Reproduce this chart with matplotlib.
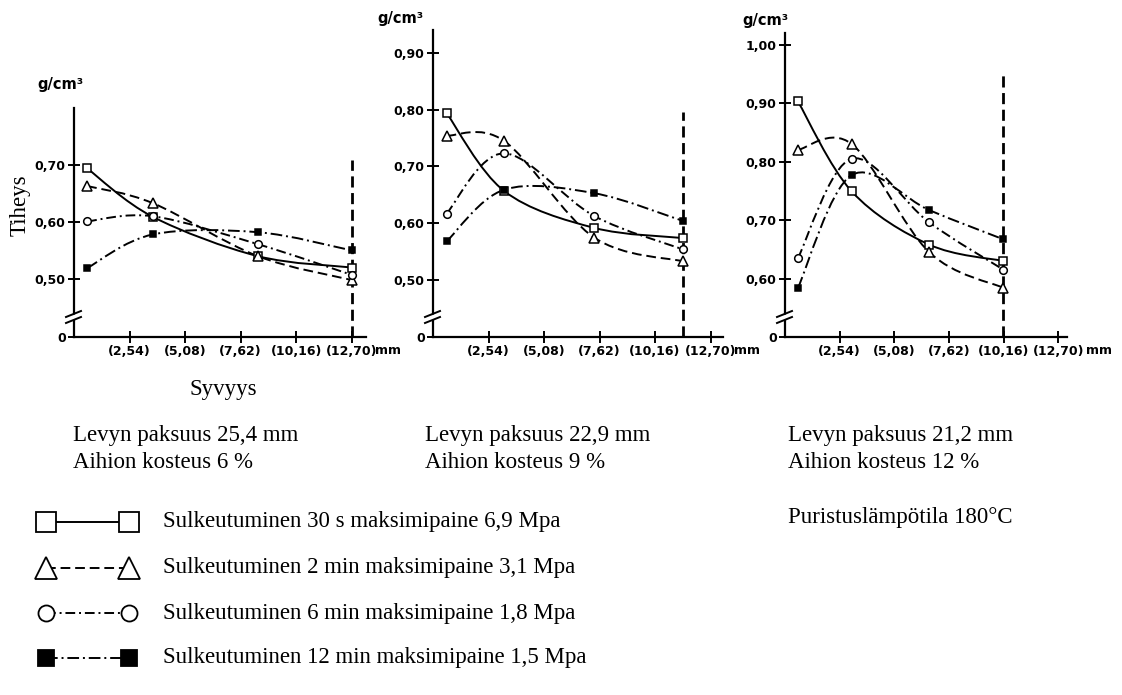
import numpy as np
import matplotlib
matplotlib.use("Agg")
import matplotlib.pyplot as plt
from matplotlib.path import Path
from matplotlib.patches import PathPatch, Polygon
from matplotlib.lines import Line2D
from matplotlib import font_manager

W, H = 1122, 695

depth1 = [0.6, 3.6, 8.4, 12.7]
p1_sq = [0.694, 0.609, 0.540, 0.520]
p1_tri = [0.663, 0.633, 0.540, 0.498]
p1_circ = [0.601, 0.610, 0.561, 0.507]
p1_fill = [0.519, 0.578, 0.582, 0.550]

depth2 = [0.62, 3.25, 7.37, 11.45]
p2_sq = [0.794, 0.657, 0.592, 0.574]
p2_tri = [0.754, 0.745, 0.575, 0.533]
p2_circ = [0.617, 0.723, 0.613, 0.554]
p2_fill = [0.568, 0.659, 0.653, 0.604]

depth3 = [0.6, 3.1, 6.7, 10.15]
p3_sq = [0.903, 0.749, 0.658, 0.630]
p3_tri = [0.820, 0.830, 0.645, 0.584]
p3_circ = [0.635, 0.805, 0.696, 0.615]
p3_fill = [0.584, 0.777, 0.717, 0.667]

# centre plane of the board and top of its dashed marker
center_x = [12.7, 11.45, 10.15]
center_top = [0.708, 0.796, 0.951]

xtick_vals = [2.54, 5.08, 7.62, 10.16, 12.70]
xtick_labels = ["(2,54)", "(5,08)", "(7,62)", "(10,16)", "(12,70)"]
ytick_vals = [[0.5, 0.6, 0.7], [0.5, 0.6, 0.7, 0.8, 0.9], [0.6, 0.7, 0.8, 0.9, 1.0]]

captions = [("Levyn paksuus 25,4 mm", "Aihion kosteus 6 %"),
            ("Levyn paksuus 22,9 mm", "Aihion kosteus 9 %"),
            ("Levyn paksuus 21,2 mm", "Aihion kosteus 12 %")]
legend_labels = ["Sulkeutuminen 30 s maksimipaine 6,9 Mpa",
                 "Sulkeutuminen 2 min maksimipaine 3,1 Mpa",
                 "Sulkeutuminen 6 min maksimipaine 1,8 Mpa",
                 "Sulkeutuminen 12 min maksimipaine 1,5 Mpa"]

# series styles: marker, face, linestyle, size
styles = [("s", "white", "-", 5.5),
          ("^", "white", (0, (5, 2.5)), 6.5),
          ("o", "white", (0, (5, 2, 1, 2)), 5.5),
          ("s", "black", (0, (6, 2, 1, 2)), 4.5)]

names = {f.name for f in font_manager.fontManager.ttflist}
if "Liberation Sans Narrow" in names:
    tickfont = dict(family="Liberation Sans Narrow", size=11.5, weight="bold")
else:
    tickfont = dict(family="DejaVu Sans", size=9, weight="bold")
unitfont = dict(tickfont, size=tickfont["size"] + 1.5)
serif = dict(family="Liberation Serif", size=16.5)

fig = plt.figure(figsize=(W / 100, H / 100), dpi=100)

ov = fig.add_axes([0, 0, 1, 1])
ov.set_xlim(0, W)
ov.set_ylim(H, 0)
ov.axis("off")


def smooth(ax, xs, ys, ls):
    """hand-drawn look: bezier curve through the points"""
    pts = np.column_stack([xs, ys])
    ext = np.vstack([pts[0], pts, pts[-1]])
    verts = [pts[0]]
    codes = [Path.MOVETO]
    for i in range(len(pts) - 1):
        p0, p1, p2, p3 = ext[i], ext[i + 1], ext[i + 2], ext[i + 3]
        verts += [p1 + (p2 - p0) / 6, p2 - (p3 - p1) / 6, p2]
        codes += [Path.CURVE4] * 3
    ax.add_patch(PathPatch(Path(verts, codes), fill=False, lw=1.4,
                           ls=ls, ec="black", zorder=2, capstyle="butt"))


def panel(left, right, top, xmax, ylim, depth, series, yt, cx, ctop, mm_dx):
    bottom = 337
    ax = fig.add_axes([left / W, 1 - bottom / H, (right - left) / W, (bottom - top) / H])
    ax.set_xlim(0, xmax)
    ax.set_ylim(*ylim)
    ax.patch.set_alpha(0)
    for s in ["top", "right"]:
        ax.spines[s].set_visible(False)
    for s in ["left", "bottom"]:
        ax.spines[s].set_linewidth(1.6)
    ax.set_xticks(xtick_vals)
    ax.set_xticklabels(xtick_labels, **tickfont)
    ax.set_yticks([ylim[0]] + yt)
    ax.set_yticklabels(["0"] + ["{:.2f}".format(v).replace(".", ",") for v in yt], **tickfont)
    ax.tick_params(direction="inout", length=8, width=1.4, pad=2)

    for (m, fc, ls, ms), ys in zip(styles, series):
        smooth(ax, depth, ys, ls)
        ax.plot(depth, ys, ls="none", marker=m, ms=ms, mfc=fc, mec="black",
                mew=1.1, zorder=3, clip_on=False)

    ax.plot([cx, cx], [ylim[0], ctop], color="black", lw=2,
            ls=(0, (4, 2)), zorder=1, clip_on=False)

    ax.annotate("mm", xy=(12.7, 0), xycoords=("data", "axes fraction"),
                xytext=(mm_dx, -13), textcoords="offset pixels",
                ha="left", va="center", **tickfont)

    # axis break mark
    h = bottom - top
    w = right - left
    yb = (bottom - 318) / h
    fx = lambda p: p / w
    fy = lambda p: p / h
    ax.add_patch(Polygon([(fx(-8), yb + fy(-5)), (fx(7), yb + fy(1)),
                          (fx(7), yb + fy(6)), (fx(-8), yb + fy(0))],
                         closed=True, transform=ax.transAxes, fc="white",
                         ec="none", clip_on=False, zorder=4))
    for d in (0, 6):
        ax.add_line(Line2D([fx(-8), fx(7)], [yb + fy(-5 + d), yb + fy(1 + d)],
                           transform=ax.transAxes, color="black", lw=1.4,
                           clip_on=False, zorder=5))
    return ax


panel(74, 366, 108, 13.35, (0.398, 0.80), depth1, [p1_sq, p1_tri, p1_circ, p1_fill],
      ytick_vals[0], center_x[0], center_top[0], 23)
panel(433, 723, 30, 13.27, (0.40, 0.94), depth2, [p2_sq, p2_tri, p2_circ, p2_fill],
      ytick_vals[1], center_x[1], center_top[1], 23)
panel(785, 1067, 33, 13.1, (0.50, 1.02), depth3, [p3_sq, p3_tri, p3_circ, p3_fill],
      ytick_vals[2], center_x[2], center_top[2], 28)

# unit labels and axis titles
for x, y in [(60, 85), (400, 18), (765, 20)]:
    ov.text(x, y, "g/cm³", ha="center", va="center", **unitfont)
ov.text(20, 205, "Tiheys", rotation=90, ha="center", va="center", **serif)
ov.text(223, 390, "Syvyys", ha="center", va="center", **serif)

for x, (a, b) in zip([73, 425, 788], captions):
    ov.text(x, 435, a, ha="left", va="center", **serif)
    ov.text(x, 462, b, ha="left", va="center", **serif)
ov.text(788, 518, "Puristuslämpötila 180°C", ha="left", va="center", **serif)

# legend drawn by hand
rows = [522, 568, 613, 658]
for (m, fc, ls, ms), y, lab in zip(styles, rows, legend_labels):
    ov.plot([46, 129], [y, y], color="black", lw=1.4, ls=ls, zorder=1)
    ov.plot([46, 129], [y, y], ls="none", marker=m, ms=ms * 2.5 if m != "o" else ms * 2.1,
            mfc=fc, mec="black", mew=1.3, zorder=2)
    ov.text(163, y, lab, ha="left", va="center", **serif)

fig.savefig("out.png", dpi=100)
